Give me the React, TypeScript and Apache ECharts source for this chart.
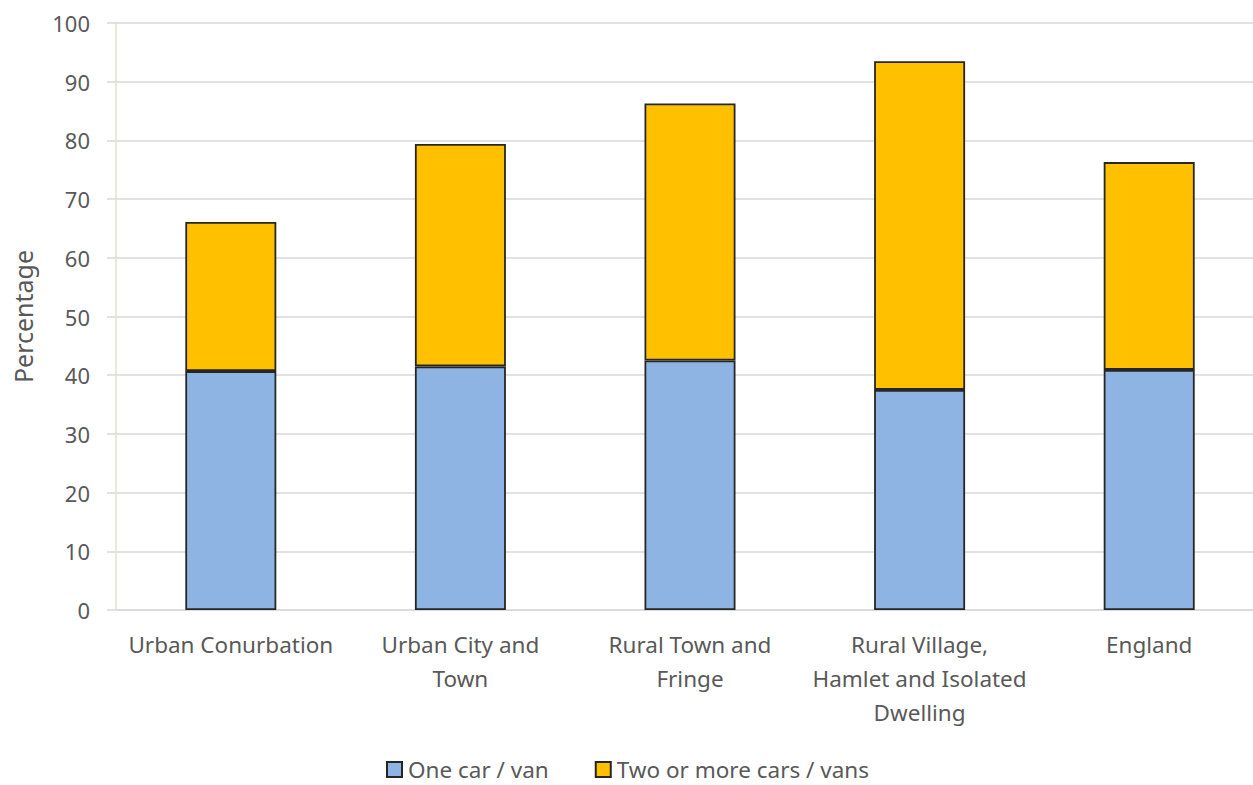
import React, { useEffect, useRef } from "react";
import * as echarts from "echarts";

const categories = [
  "Urban Conurbation",
  "Urban City and\nTown",
  "Rural Town and\nFringe",
  "Rural Village,\nHamlet and Isolated\nDwelling",
  "England",
];
const oneCar = [40.7, 41.5, 42.5, 37.5, 40.9];
const twoOrMore = [25.4, 37.9, 43.8, 56.0, 35.4];
const seriesNames = ["One car / van", "Two or more cars / vans"];

const FONT = "'Noto Sans', 'Open Sans', sans-serif";

export default function App() {
  const ref = useRef<HTMLDivElement>(null);
  useEffect(() => {
    document.body.style.margin = "0";
    const chart = echarts.init(ref.current!, null, { renderer: "svg" });
    chart.setOption({
      animation: false,
      backgroundColor: "#ffffff",
      textStyle: { fontFamily: FONT },
      grid: { left: 116, right: 0, top: 23, bottom: 175, containLabel: false },
      legend: {
        top: 758,
        left: 386,
        padding: 0,
        itemWidth: 15,
        itemHeight: 15,
        itemGap: 46,
        icon: "rect",
        textStyle: {
          fontSize: 22.5,
          lineHeight: 22,
          color: "#595959",
          fontFamily: FONT,
          padding: [0, 0, 0, 1],
        },
        data: seriesNames,
      },
      xAxis: {
        type: "category",
        data: categories,
        axisLine: { show: true, lineStyle: { color: "#d9d9d9", width: 1.5 } },
        axisTick: { show: false },
        axisLabel: {
          fontSize: 22.5,
          color: "#595959",
          lineHeight: 34,
          margin: 17,
          interval: 0,
          fontFamily: FONT,
        },
      },
      yAxis: {
        type: "value",
        min: 0,
        max: 100,
        interval: 10,
        name: "Percentage",
        nameLocation: "middle",
        nameRotate: 90,
        nameGap: 81,
        nameTextStyle: { fontSize: 25, color: "#595959", fontFamily: FONT },
        axisLine: { show: true, lineStyle: { color: "#e6e2cf", width: 1.5 } },
        axisTick: { show: true, length: 9, lineStyle: { color: "#d9d9d9", width: 1.5 } },
        axisLabel: { fontSize: 22, color: "#595959", margin: 26, fontFamily: FONT },
        splitLine: { show: true, lineStyle: { color: "#d9d9d9", width: 1.5 } },
      },
      series: [
        {
          name: seriesNames[0],
          type: "bar",
          stack: "total",
          data: oneCar,
          barWidth: 91,
          itemStyle: { color: "#8eb4e3", borderColor: "#262626", borderWidth: 1.8 },
        },
        {
          name: seriesNames[1],
          type: "bar",
          stack: "total",
          data: twoOrMore,
          barWidth: 91,
          itemStyle: { color: "#ffc000", borderColor: "#262626", borderWidth: 1.8 },
        },
      ],
    });
    return () => chart.dispose();
  }, []);
  return (
    <div style={{ width: 1253, height: 785, overflow: "hidden", position: "absolute", left: 0, top: 0 }}>
      <div ref={ref} style={{ width: 1264, height: 785 }} />
    </div>
  );
}
